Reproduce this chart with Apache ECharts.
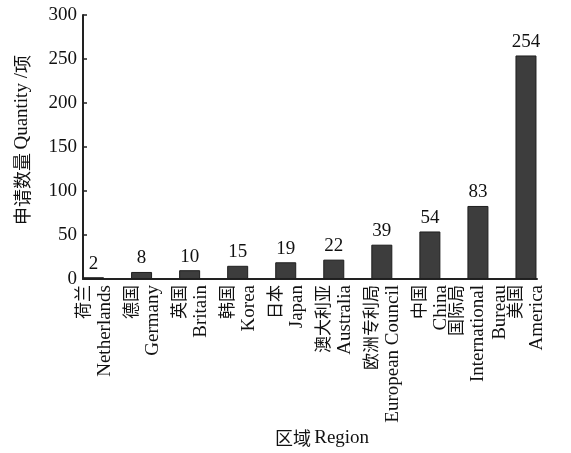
<!DOCTYPE html>
<html>
<head>
<meta charset="utf-8">
<script src="https://cdn.jsdelivr.net/npm/echarts@6/dist/echarts.min.js"></script>
<style>
  html, body { margin: 0; padding: 0; background: #fff; }
  #chart { width: 571px; height: 453px; }
</style>
</head>
<body>
<div id="chart"></div>
<script>
// Patent applications by region
const regionsCn = ['荷兰', '德国', '英国', '韩国', '日本', '澳大利亚', '欧洲专利局', '中国', '国际局', '美国'];
const regionsEn = ['Netherlands', 'Germany', 'Britain', 'Korea', 'Japan', 'Australia', 'European Council', 'China', 'International Bureau', 'America'];
const quantities = [2, 8, 10, 15, 19, 22, 39, 54, 83, 254];
const yTicks = { min: 0, max: 300, interval: 50 };

const serif = '"Liberation Serif", "Times New Roman", serif';
const cjk = '"Noto Sans CJK SC", sans-serif';
const ink = '#111';

const chart = echarts.init(document.getElementById('chart'), null, { renderer: 'canvas' });

chart.setOption({
  backgroundColor: '#fff',
  animation: false,
  grid: [
    // grid holding the bars
    { left: 69.5, right: 21, top: 15, bottom: 174 },
    // grid holding the visible axis frame
    { left: 83, right: 34, top: 15, bottom: 174 }
  ],
  xAxis: [
    {
      type: 'category',
      gridIndex: 0,
      data: regionsCn,
      axisLine: { show: false },
      axisTick: { show: false },
      axisLabel: {
        interval: 0,
        rotate: 90,
        margin: 6,
        color: ink,
        formatter: (v, i) => {
          const en = regionsEn[i].replace(' Bureau', '\nBureau');
          return '{cn|' + v + '}\n' + en.split('\n').map(s => '{en|' + s + '}').join('\n');
        },
        rich: {
          cn: { fontFamily: cjk, fontSize: 17, lineHeight: 22, color: ink },
          en: { fontFamily: serif, fontSize: 19, lineHeight: 22, color: ink }
        }
      }
    },
    {
      type: 'value',
      gridIndex: 1,
      min: 0,
      max: 1,
      axisLine: { show: true, onZero: false, lineStyle: { color: '#222', width: 2 } },
      axisTick: { show: false },
      axisLabel: { show: false },
      splitLine: { show: false }
    }
  ],
  yAxis: [
    {
      type: 'value',
      gridIndex: 0,
      min: yTicks.min,
      max: yTicks.max,
      interval: yTicks.interval,
      show: false
    },
    {
      type: 'value',
      gridIndex: 1,
      min: yTicks.min,
      max: yTicks.max,
      interval: yTicks.interval,
      axisLine: { show: true, lineStyle: { color: '#222', width: 2 } },
      axisTick: { show: true, inside: true, length: 4, lineStyle: { color: '#222', width: 1.5 } },
      axisLabel: { margin: 6, color: ink, fontFamily: serif, fontSize: 19 },
      splitLine: { show: false }
    }
  ],
  series: [
    {
      type: 'bar',
      xAxisIndex: 0,
      yAxisIndex: 0,
      data: quantities,
      barWidth: 21,
      itemStyle: { color: '#3d3d3d', borderColor: '#1e1e1e', borderWidth: 1 },
      label: {
        show: true,
        position: 'top',
        distance: 4,
        color: ink,
        fontFamily: serif,
        fontSize: 19
      }
    }
  ],
  graphic: [
    {
      type: 'text',
      x: 22,
      y: 140,
      rotation: Math.PI / 2,
      style: {
        text: '{cn|申请数量} {en|Quantity /}{cn|项}',
        align: 'center',
        verticalAlign: 'middle',
        fill: ink,
        rich: {
          cn: { fontFamily: cjk, fontSize: 18, fill: ink },
          en: { fontFamily: serif, fontSize: 19, fill: ink }
        }
      }
    },
    {
      type: 'text',
      x: 322,
      y: 438,
      style: {
        text: '{cn|区域} {en|Region}',
        align: 'center',
        verticalAlign: 'middle',
        fill: ink,
        rich: {
          cn: { fontFamily: cjk, fontSize: 18, fill: ink },
          en: { fontFamily: serif, fontSize: 19, fill: ink }
        }
      }
    }
  ]
});
</script>
</body>
</html>
